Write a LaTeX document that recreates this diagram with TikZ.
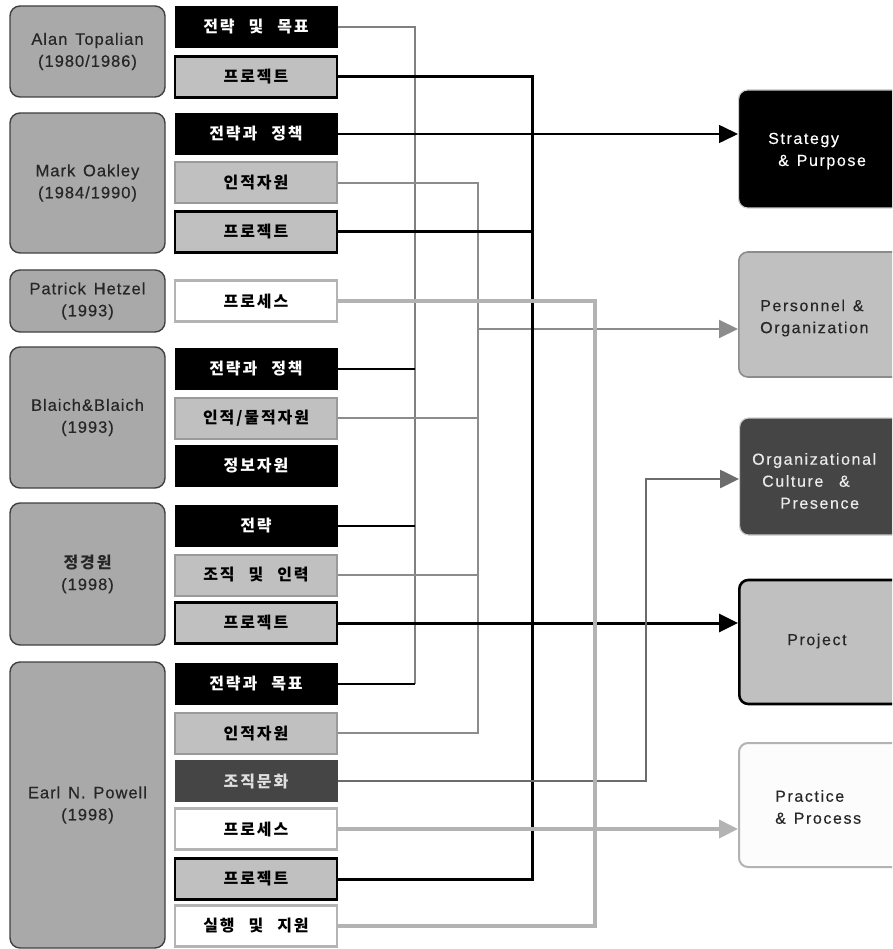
\documentclass[tikz,border=0pt]{standalone}
\usepackage{fontspec}
\setmainfont{Liberation Sans}
\newfontfamily\kr[LetterSpace=12,WordSpace=2.5]{Noto Sans CJK KR}
\newfontfamily\lat[LetterSpace=6,WordSpace=1.4,FakeBold=0.4]{Liberation Sans}
\newfontfamily\rlat[LetterSpace=10,WordSpace=1.3,FakeBold=0.3]{Liberation Sans}
\usetikzlibrary{arrows.meta}

\definecolor{authfill}{HTML}{A9A9A9}
\definecolor{authline}{HTML}{404040}
\definecolor{authtext}{HTML}{262626}
\definecolor{boxgray}{HTML}{C0C0C0}
\definecolor{grayedge}{HTML}{9A9A9A}
\definecolor{lightedge}{HTML}{B4B4B4}
\definecolor{darkfill}{HTML}{454545}
\definecolor{haloedge}{HTML}{CCCCCC}
\definecolor{busgray}{HTML}{808080}
\definecolor{persgray}{HTML}{8C8C8C}
\definecolor{orggray}{HTML}{6C6C6C}
\definecolor{pracgray}{HTML}{B3B3B3}
\definecolor{paper}{HTML}{FCFCFC}

\begin{document}
\begin{tikzpicture}[x=1pt,y=-1pt,
  authbox/.style={draw=authline, fill=authfill, line width=1.4pt, rounded corners=10pt,
    minimum width=155pt, inner sep=0pt, text=authtext, align=center,
    font=\lat\fontsize{16.5}{22}\selectfont},
  itembox/.style={minimum width=162pt, minimum height=41pt, inner sep=0pt,
    font=\kr\bfseries\fontsize{16}{18}\selectfont},
  itblack/.style={itembox, fill=black, draw=black, line width=1pt, text=white},
  itgray/.style={itembox, fill=boxgray, draw=grayedge, line width=2pt, text=black},
  itproj/.style={itembox, fill=boxgray, draw=black, line width=2.6pt, text=black},
  itwhite/.style={itembox, fill=white, draw=lightedge, line width=2.6pt, text=black},
  itdark/.style={itembox, fill=darkfill, draw=darkfill, line width=1pt, text=white!88!black},
  target/.style={minimum width=170pt, rounded corners=9pt, inner sep=0pt, anchor=west},
  rtext/.style={font=\rlat\fontsize{16}{22}\selectfont, align=left, anchor=west, inner sep=0pt},
  sgray/.style={draw=busgray, line width=2pt},
  sblack/.style={draw=black, line width=1.6pt},
  pline/.style={draw=persgray, line width=2pt},
  jline/.style={draw=black, line width=3pt},
  oline/.style={draw=orggray, line width=2.6pt},
  cline/.style={draw=pracgray, line width=3.8pt},
  tip/.style={-{Triangle[length=19pt,width=18pt]}}
]
\useasboundingbox (0,0) rectangle (892,949);
\clip (0,0) rectangle (892,949);

% authors
\node[authbox, minimum height=91pt]  (L1) at (87.5,51.5) {Alan Topalian\\(1980/1986)};
\node[authbox, minimum height=140pt] (L2) at (87.5,183)  {Mark Oakley\\(1984/1990)};
\node[authbox, minimum height=62pt]  (L3) at (87.5,301)  {Patrick Hetzel\\(1993)};
\node[authbox, minimum height=141pt] (L4) at (87.5,417.5){Blaich\&Blaich\\(1993)};
\node[authbox, minimum height=142pt] (L5) at (87.5,574)  {{\kr\bfseries\fontsize{16}{22}\selectfont 정경원}\\(1998)};
\node[authbox, minimum height=286pt] (L6) at (87.5,805)  {Earl N. Powell\\(1998)};

% elements of each model
\node[itblack] (a1) at (256,27)  {전략 및 목표};
\node[itproj]  (a2) at (256,77)  {프로젝트};
\node[itblack] (b1) at (256,134) {전략과 정책};
\node[itgray]  (b2) at (256,183) {인적자원};
\node[itproj]  (b3) at (256,232) {프로젝트};
\node[itwhite] (c1) at (256,301) {프로세스};
\node[itblack] (d1) at (256,369) {전략과 정책};
\node[itgray]  (d2) at (256,418) {인적/물적자원};
\node[itblack] (d3) at (256,466) {정보자원};
\node[itblack] (e1) at (256,526) {전략};
\node[itgray]  (e2) at (256,575) {조직 및 인력};
\node[itproj]  (e3) at (256,623) {프로젝트};
\node[itblack] (f1) at (256,684) {전략과 목표};
\node[itgray]  (f2) at (256,733) {인적자원};
\node[itdark]  (f3) at (256,781) {조직문화};
\node[itwhite] (f4) at (256,829) {프로세스};
\node[itproj]  (f5) at (256,879) {프로젝트};
\node[itwhite] (f6) at (256,926) {실행 및 지원};

% dimensions
\node[target, fill=black, draw=haloedge, line width=1.2pt, minimum height=118pt] (R1) at (738,149) {};
\node[target, fill=boxgray, draw=persgray, line width=1.6pt, minimum height=125pt] (R2) at (738,314.5) {};
\node[target, fill=darkfill, draw=haloedge, line width=1.2pt, minimum height=117pt] (R3) at (739,476.5) {};
\node[target, fill=boxgray, draw=black, line width=2.6pt, minimum height=124pt] (R4) at (738,642) {};
\node[target, fill=paper, draw=pracgray, line width=2pt, minimum height=124pt] (R5) at (738,805) {};

\node[rtext, text=white] (R1t) at (768,151) {Strategy\\\hspace*{10pt}\& Purpose};
\node[rtext, text=authtext] (R2t) at (760,318) {Personnel \&\\Organization};
\node[rtext, text=white!92!black] (R3t) at (752,481) {Organizational\\\hspace*{10pt}Culture\ \ \&\\\hspace*{28pt}Presence};
\node[rtext, text=authtext] (R4t) at (787,641) {Project};
\node[rtext, text=authtext] (R5t) at (775,807) {Practice\\\& Process};

% bus positions
\coordinate (sx) at (415,0);
\coordinate (px) at (478,0);
\coordinate (jx) at (532,0);
\coordinate (cx) at (595,0);
\coordinate (pjoin) at (478,329);
\coordinate (ojoin) at (646,479);

% strategy
\draw[sgray] (a1.east) -| (sx |- f1.east);
\draw[sblack] (d1.east) -- (sx |- d1.east);
\draw[sblack] (e1.east) -- (sx |- e1.east);
\draw[sblack] (f1.east) -- (sx |- f1.east);
\draw[sblack, tip] (b1.east) -- (b1.east -| R1.west);

% personnel
\draw[pline] (b2.east) -| (px |- f2.east) -- (f2.east);
\draw[pline] (d2.east) -- (px |- d2.east);
\draw[pline] (e2.east) -- (px |- e2.east);
\draw[pline, tip] (pjoin) -- (pjoin -| R2.west);

% project
\draw[jline] (a2.east) -| (jx |- f5.east) -- (f5.east);
\draw[jline] (b3.east) -- (jx |- b3.east);
\draw[jline, tip] (e3.east) -- (e3.east -| R4.west);

% organizational culture
\draw[oline, tip] (f3.east) -| (ojoin) -- (ojoin -| R3.west);

% practice
\draw[cline] (c1.east) -| (cx |- f6.east) -- (f6.east);
\draw[cline, tip] (f4.east) -- (f4.east -| R5.west);
\end{tikzpicture}
\end{document}
